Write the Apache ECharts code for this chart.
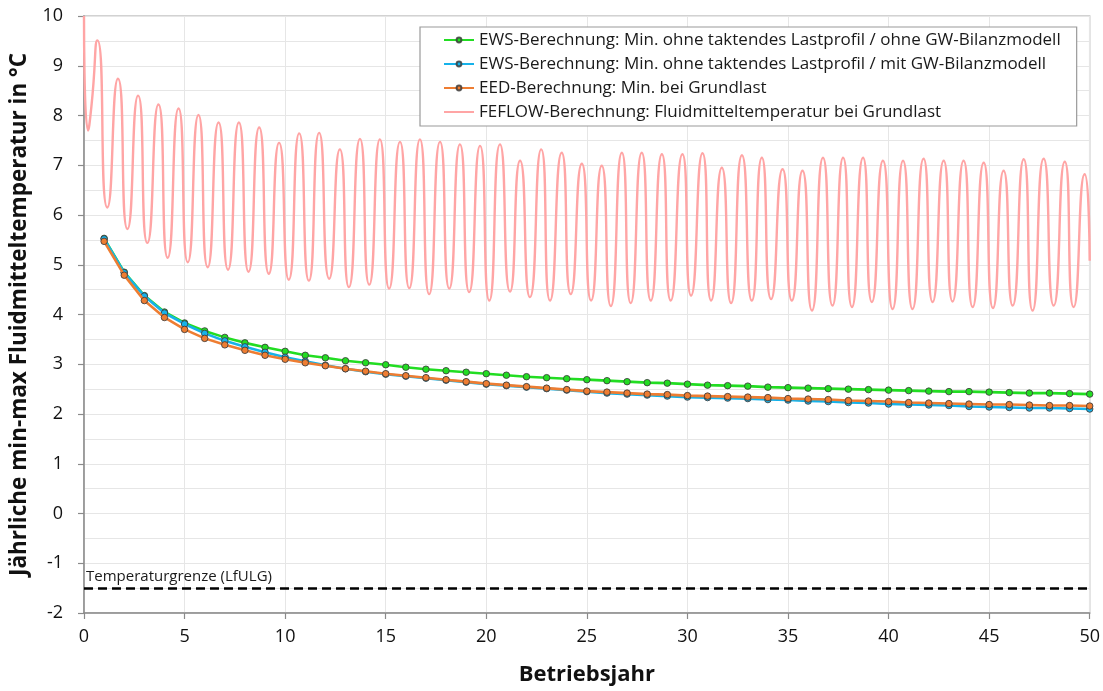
<!DOCTYPE html>
<html>
<head>
<meta charset="utf-8">
<script src="https://cdn.jsdelivr.net/npm/echarts@6/dist/echarts.min.js"></script>
<style>
  html, body { margin: 0; padding: 0; background: #ffffff; }
  #chart { width: 1103px; height: 691px; }
</style>
</head>
<body>
<div id="chart"></div>
<script>
// Betriebsjahre 1..50
const years = [1,2,3,4,5,6,7,8,9,10,11,12,13,14,15,16,17,18,19,20,21,22,23,24,25,
  26,27,28,29,30,31,32,33,34,35,36,37,38,39,40,41,42,43,44,45,46,47,48,49,50];

// EWS: Min. ohne taktendes Lastprofil / ohne GW-Bilanzmodell (°C)
const ewsOhneGw = [5.53,4.85,4.38,4.05,3.83,3.67,3.54,3.43,3.34,3.26,
  3.18,3.13,3.07,3.03,2.99,2.94,2.90,2.87,2.84,2.81,
  2.78,2.75,2.73,2.71,2.69,2.67,2.65,2.63,2.62,2.60,
  2.58,2.57,2.56,2.54,2.53,2.52,2.51,2.50,2.49,2.48,
  2.47,2.46,2.45,2.45,2.44,2.43,2.42,2.42,2.41,2.40];

// EWS: Min. ohne taktendes Lastprofil / mit GW-Bilanzmodell (°C)
const ewsMitGw = [5.52,4.84,4.37,4.03,3.81,3.62,3.47,3.35,3.24,3.14,
  3.06,2.98,2.91,2.85,2.80,2.76,2.72,2.68,2.64,2.60,
  2.57,2.54,2.51,2.48,2.45,2.42,2.40,2.38,2.36,2.34,
  2.33,2.32,2.31,2.29,2.28,2.26,2.25,2.23,2.22,2.20,
  2.19,2.18,2.17,2.15,2.14,2.13,2.12,2.12,2.11,2.10];

// EED: Min. bei Grundlast (°C)
const eedGrundlast = [5.47,4.79,4.28,3.94,3.70,3.52,3.39,3.28,3.18,3.10,
  3.03,2.97,2.91,2.86,2.81,2.77,2.73,2.69,2.65,2.61,
  2.58,2.55,2.52,2.49,2.46,2.44,2.42,2.40,2.39,2.37,
  2.36,2.35,2.34,2.33,2.31,2.30,2.29,2.27,2.26,2.25,
  2.23,2.22,2.21,2.20,2.19,2.19,2.18,2.17,2.17,2.16];

// FEFLOW: Fluidmitteltemperatur bei Grundlast – Zeitpunkte (Jahre) der Extremwerte
const feflowTime = [0.00,0.20,0.37,0.67,1.16,1.69,2.16,2.69,3.15,3.70,4.16,4.70,5.16,5.69,6.15,6.69,
  7.16,7.70,8.18,8.71,9.19,9.70,10.18,10.70,11.18,11.69,12.19,12.72,13.17,13.72,14.18,14.71,
  15.17,15.71,16.17,16.70,17.16,17.70,18.16,18.69,19.15,19.69,20.15,20.68,21.18,21.68,22.17,22.73,
  23.17,23.75,24.20,24.75,25.21,25.74,26.19,26.74,27.18,27.73,28.18,28.73,29.17,29.75,30.18,30.75,
  31.18,31.71,32.17,32.71,33.20,33.70,34.16,34.73,35.19,35.72,36.19,36.74,37.21,37.74,38.18,38.73,
  39.17,39.72,40.20,40.72,41.19,41.74,42.19,42.74,43.18,43.73,44.18,44.73,45.19,45.72,46.17,46.72,
  47.16,47.71,48.21,48.76,49.20,49.75,50.00];
// FEFLOW: Temperaturen zu den Zeitpunkten oben (°C)
const feflowTemp = [10.00,7.70,8.19,9.51,6.15,8.74,5.72,8.40,5.44,8.22,5.14,8.14,5.05,8.01,4.95,7.86,
  4.90,7.86,4.86,7.76,4.82,7.45,4.70,7.64,4.68,7.65,4.72,7.32,4.55,7.53,4.60,7.52,
  4.52,7.47,4.53,7.52,4.41,7.47,4.52,7.42,4.45,7.39,4.28,7.42,4.46,7.09,4.35,7.32,
  4.28,7.25,4.41,7.03,4.28,6.99,4.17,7.25,4.23,7.25,4.28,7.22,4.28,7.22,4.38,7.24,
  4.28,6.95,4.23,7.20,4.28,7.15,4.31,6.92,4.28,6.89,4.08,7.15,4.18,7.15,4.15,7.15,
  4.25,7.09,4.11,7.09,4.11,7.13,4.25,7.09,4.26,7.09,4.15,7.05,4.13,6.89,4.18,7.12,
  4.08,7.13,4.18,7.07,4.15,6.82,5.08];

// Temperaturgrenze (LfULG) in °C
const tempLimit = -1.5;

// Achsenbereiche
const xMin = 0, xMax = 50, xStep = 5;
const yMin = -2, yMax = 10, yStep = 1;

const FONT = '"Open Sans", "Noto Sans", sans-serif';

const pair = (xs, ys) => xs.map((x, i) => [x, ys[i]]);

const names = [
  'EWS-Berechnung: Min. ohne taktendes Lastprofil / ohne GW-Bilanzmodell',
  'EWS-Berechnung: Min. ohne taktendes Lastprofil / mit GW-Bilanzmodell',
  'EED-Berechnung: Min. bei Grundlast',
  'FEFLOW-Berechnung: Fluidmitteltemperatur bei Grundlast'
];

function markerSeries(name, color, values, z) {
  return {
    name: name,
    type: 'line',
    data: pair(years, values),
    z: z,
    smooth: false,
    symbol: 'circle',
    symbolSize: 6.5,
    showSymbol: true,
    lineStyle: { color: color, width: 2.6 },
    itemStyle: { color: color, borderColor: 'rgba(60,60,60,0.85)', borderWidth: 1 },
    emphasis: { disabled: true }
  };
}

const chart = echarts.init(document.getElementById('chart'), null, { renderer: 'canvas' });

chart.setOption({
  animation: false,
  backgroundColor: '#ffffff',
  textStyle: { fontFamily: FONT },
  grid: {
    left: 84, right: 13, top: 16, bottom: 76,
    show: true, borderColor: '#c4c4c4', borderWidth: 1.5, backgroundColor: 'transparent'
  },
  legend: {
    data: [
      { name: names[0] },
      { name: names[1] },
      { name: names[2] },
      { name: names[3], itemStyle: { opacity: 0 } }
    ],
    orient: 'vertical',
    left: 420, top: 27,
    padding: [3, 16, 4, 23],
    itemGap: 4,
    itemWidth: 30,
    itemHeight: 6,
    backgroundColor: '#ffffff',
    borderColor: '#9a9a9a',
    borderWidth: 1.2,
    textStyle: { fontFamily: FONT, fontSize: 17, color: '#1a1a1a', lineHeight: 20 },
    selectedMode: false
  },
  xAxis: {
    type: 'value',
    min: xMin, max: xMax, interval: xStep,
    name: 'Betriebsjahr',
    nameLocation: 'middle',
    nameGap: 51,
    nameTextStyle: { fontFamily: FONT, fontSize: 22, fontWeight: 'bold', color: '#111' },
    axisLine: { show: true, onZero: false, lineStyle: { color: '#8a8a8a', width: 1.5 } },
    axisTick: { show: true, inside: false, length: 6, lineStyle: { color: '#8a8a8a', width: 1.2 } },
    axisLabel: { fontFamily: FONT, fontSize: 18, color: '#111', margin: 15 },
    splitLine: { show: true, lineStyle: { color: '#e6e6e6', width: 1 } }
  },
  yAxis: {
    type: 'value',
    min: yMin, max: yMax, interval: yStep,
    name: 'Jährliche min-max Fluidmitteltemperatur in °C',
    nameLocation: 'middle',
    nameGap: 50,
    nameTextStyle: { fontFamily: FONT, fontSize: 22.5, fontWeight: 'bold', color: '#111' },
    axisLine: { show: true, onZero: false, lineStyle: { color: '#8a8a8a', width: 1.5 } },
    axisTick: { show: true, inside: false, length: 6, lineStyle: { color: '#8a8a8a', width: 1.2 } },
    axisLabel: { fontFamily: FONT, fontSize: 18, color: '#111', margin: 21 },
    splitLine: { show: true, lineStyle: { color: '#e6e6e6', width: 1 } },
    minorTick: { show: false, splitNumber: 2 },
    minorSplitLine: { show: true, lineStyle: { color: '#e6e6e6', width: 1 } }
  },
  series: [
    {
      name: names[3],
      type: 'line',
      data: pair(feflowTime, feflowTemp),
      z: 2,
      smooth: 0.7,
      showSymbol: false,
      symbol: 'none',
      clip: true,
      lineStyle: { color: '#ffa5a5', width: 2.4 },
      itemStyle: { color: '#ffa5a5' },
      emphasis: { disabled: true }
    },
    markerSeries(names[0], '#22dd22', ewsOhneGw, 3),
    markerSeries(names[1], '#16b2ea', ewsMitGw, 4),
    markerSeries(names[2], '#ee7d32', eedGrundlast, 5),
    {
      name: 'Temperaturgrenze (LfULG)',
      type: 'line',
      data: [],
      z: 6,
      markLine: {
        silent: true,
        symbol: ['none', 'none'],
        animation: false,
        lineStyle: { color: '#000000', width: 2.6, type: [9, 5] },
        label: {
          show: true,
          position: 'insideStartTop',
          formatter: 'Temperaturgrenze (LfULG)',
          fontFamily: FONT, fontSize: 15, color: '#1a1a1a', distance: [2, 4]
        },
        data: [{ yAxis: tempLimit }]
      }
    }
  ]
});
</script>
</body>
</html>
